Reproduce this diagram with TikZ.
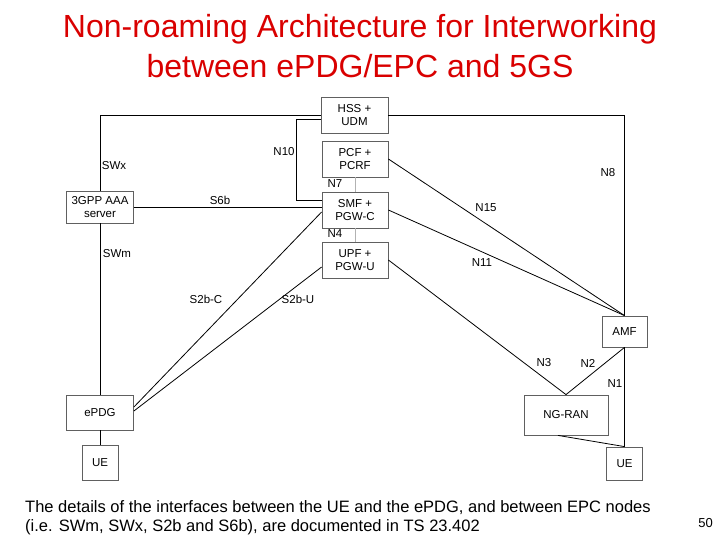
\documentclass[tikz,border=0pt]{standalone}
\usepackage{fontspec}
\setmainfont{Liberation Sans}
\begin{document}
\begin{tikzpicture}[x=1pt, y=-1pt]
  \tikzset{
    nf_box/.style={draw=gray!75!black, line width=0.8pt, fill=white,
      align=center, inner sep=0pt, font=\fontsize{11.5}{13}\selectfont},
    if_line/.style={line width=0.8pt, black},
    if_thin/.style={line width=0.8pt, gray!60},
    if_label/.style={font=\fontsize{11.5}{13}\selectfont, inner sep=0pt}
  }
  \useasboundingbox (0,0) rectangle (720,540);

  % title
  \node[anchor=base, red!85!black, font=\fontsize{32}{40}\selectfont] (title_a) at (360,38) {Non-roaming Architecture for Interworking};
  \node[anchor=base, red!85!black, font=\fontsize{32}{40}\selectfont] (title_b) at (360,78) {between ePDG/EPC and 5GS};

  % network functions
  \node[nf_box, minimum width=67, minimum height=36] (hss) at (354.5,115) {HSS +\\UDM};
  \node[nf_box, minimum width=66, minimum height=36] (pcf) at (355,159) {PCF +\\PCRF};
  \node[nf_box, minimum width=66, minimum height=36] (smf) at (355,210) {SMF +\\PGW-C};
  \node[nf_box, minimum width=66, minimum height=36] (upf) at (355,260) {UPF +\\PGW-U};
  \node[nf_box, minimum width=67, minimum height=32] (aaa) at (100,207) {3GPP AAA\\server};
  \node[nf_box, minimum width=67, minimum height=35] (epdg) at (100,412.5) {ePDG};
  \node[nf_box, minimum width=36, minimum height=35] (ue_a) at (100,462.5) {UE};
  \node[nf_box, minimum width=45, minimum height=31] (amf) at (624.5,331.5) {AMF};
  \node[nf_box, minimum width=84, minimum height=40] (ngran) at (566,415) {NG-RAN};
  \node[nf_box, minimum width=36, minimum height=33] (ue_b) at (624.5,463.5) {UE};

  % interfaces
  \draw[if_line] (aaa.north) |- (hss.west);
  \draw[if_line] (hss.east) -| (amf.north);
  \draw[if_line] ([yshift=-4pt]hss.west) -- ++(-24,0) |- ([yshift=10pt]smf.west);
  \draw[if_line] (aaa.east) -- (aaa.east -| smf.west);
  \draw[if_thin] (pcf.south) -- (smf.north);
  \draw[if_thin] (smf.south) -- (upf.north);
  \draw[if_line] (pcf.east) -- (amf.north);
  \draw[if_line] (smf.east) -- (amf.north);
  \draw[if_line] (upf.east) -- (ngran.north);
  \draw[if_line] (amf.south) -- (ngran.north);
  \draw[if_line] (amf.south) -- (ue_b.north);
  \draw[if_line] ([xshift=-8pt]ngran.south) -- (ue_b.north);
  \draw[if_line] (aaa.south) -- (epdg.north);
  \draw[if_line] (epdg.south) -- (ue_a.north);
  \draw[if_line] ([yshift=5.5pt]epdg.east) -- ([yshift=-2pt]smf.west);
  \draw[if_line] ([yshift=1.5pt]epdg.east) -- ([yshift=-7pt]upf.west);

  % interface labels
  \node[if_label] (lbl_n10) at (284,152) {N10};
  \node[if_label] (lbl_swx) at (114,166) {SWx};
  \node[if_label] (lbl_n7) at (335,184) {N7};
  \node[if_label] (lbl_s6b) at (220,200) {S6b};
  \node[if_label] (lbl_n4) at (335,234) {N4};
  \node[if_label] (lbl_swm) at (117,254) {SWm};
  \node[if_label] (lbl_n8) at (608,173) {N8};
  \node[if_label] (lbl_n15) at (486,208) {N15};
  \node[if_label] (lbl_n11) at (482,263) {N11};
  \node[if_label] (lbl_s2bc) at (206,299) {S2b-C};
  \node[if_label] (lbl_s2bu) at (298,299) {S2b-U};
  \node[if_label] (lbl_n3) at (544,363) {N3};
  \node[if_label] (lbl_n2) at (588,363) {N2};
  \node[if_label] (lbl_n1) at (615,384) {N1};

  % footnote
  \node[anchor=base west, inner sep=0pt, font=\fontsize{16.5}{19}\selectfont] (note_a) at (25,512) {The details of the interfaces between the UE and the ePDG, and between EPC nodes};
  \node[anchor=base west, inner sep=0pt, font=\fontsize{16.5}{19}\selectfont] (note_b) at (25,531) {(i.e. SWm, SWx, S2b and S6b), are documented in TS 23.402};
  \node[anchor=base east, inner sep=0pt, font=\fontsize{13}{15}\selectfont] (page_no) at (713,527) {50};
\end{tikzpicture}
\end{document}
